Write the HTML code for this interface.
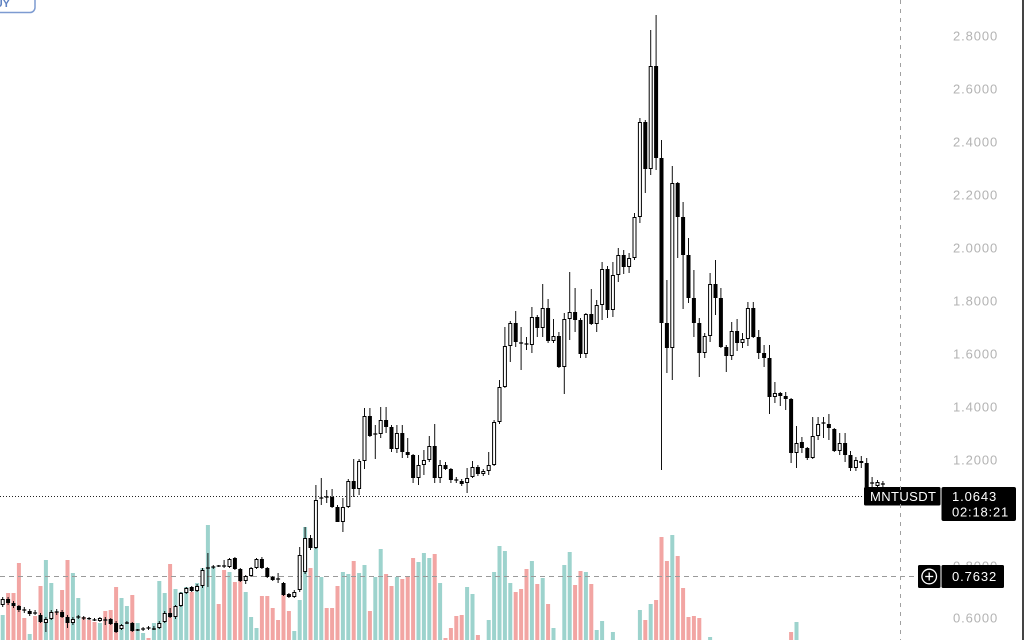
<!DOCTYPE html>
<html>
<head>
<meta charset="utf-8">
<style>
html,body{margin:0;padding:0;background:#fff;}
body{width:1024px;height:640px;overflow:hidden;}
svg{display:block;}
.ax{font-family:"Liberation Sans",sans-serif;font-size:13px;letter-spacing:0.9px;fill:#b3b3b3;}
.lb{font-family:"Liberation Sans",sans-serif;font-size:13px;fill:#fff;}
</style>
</head>
<body>
<svg width="1024" height="640" viewBox="0 0 1024 640" xmlns="http://www.w3.org/2000/svg">
<rect x="0" y="0" width="1024" height="640" fill="#fff"/>

<!-- top-left button -->
<rect x="-30" y="-20" width="65" height="32.5" rx="5" ry="5" fill="#fff" stroke="#7d9bd1" stroke-width="1.5"/>
<text x="10" y="7" text-anchor="end" font-family="Liberation Sans, sans-serif" font-size="11" font-weight="bold" fill="#5f82c2">BUY</text>

<!-- volume bars -->
<path fill="#9dd3cd" d="M0.7 615h4V640h-4zM27.7 634h4V640h-4zM43.9 560h4V640h-4zM49.3 583h4V640h-4zM70.9 573h4V640h-4zM76.3 598h4V640h-4zM97.9 623h4V640h-4zM119.5 598h4V640h-4zM124.9 606h4V640h-4zM135.7 623h4V640h-4zM141.1 633h4V640h-4zM151.9 623h4V640h-4zM157.3 581h4V640h-4zM162.7 593h4V640h-4zM173.5 589h4V640h-4zM178.9 592h4V640h-4zM184.3 587h4V640h-4zM195.1 583h4V640h-4zM200.5 568h4V640h-4zM205.9 525h4V640h-4zM211.3 567h4V640h-4zM227.5 572h4V640h-4zM243.7 592h4V640h-4zM249.1 617h4V640h-4zM254.5 628h4V640h-4zM292.3 631h4V640h-4zM297.7 600h4V640h-4zM303.1 527h4V640h-4zM313.9 520h4V640h-4zM319.3 577h4V640h-4zM340.9 572h4V640h-4zM346.3 574h4V640h-4zM357.1 573h4V640h-4zM362.5 565h4V640h-4zM373.3 577h4V640h-4zM378.7 549h4V640h-4zM394.9 577h4V640h-4zM416.5 562h4V640h-4zM421.9 553h4V640h-4zM427.3 558h4V640h-4zM438.1 583h4V640h-4zM465.1 587h4V640h-4zM470.5 594h4V640h-4zM486.7 620h4V640h-4zM492.1 572h4V640h-4zM497.5 546h4V640h-4zM502.9 551h4V640h-4zM508.3 583h4V640h-4zM529.9 561h4V640h-4zM540.7 578h4V640h-4zM551.5 628h4V640h-4zM562.3 565h4V640h-4zM567.7 552h4V640h-4zM583.9 572h4V640h-4zM594.7 630h4V640h-4zM600.1 621h4V640h-4zM610.9 632h4V640h-4zM637.9 610h4V640h-4zM648.7 604h4V640h-4zM670.3 535h4V640h-4zM708.1 637h4V640h-4zM794.5 622h4V640h-4z"/>
<path fill="#f2a5a3" d="M6.1 593h4V640h-4zM11.5 593h4V640h-4zM16.9 563h4V640h-4zM22.3 618h4V640h-4zM33.1 616h4V640h-4zM38.5 586h4V640h-4zM54.7 612h4V640h-4zM60.1 590h4V640h-4zM65.5 560h4V640h-4zM81.7 617h4V640h-4zM87.1 620h4V640h-4zM92.5 622h4V640h-4zM103.3 611h4V640h-4zM108.7 610h4V640h-4zM114.1 587h4V640h-4zM130.3 595h4V640h-4zM146.5 638h4V640h-4zM168.1 564h4V640h-4zM189.7 592h4V640h-4zM216.7 604h4V640h-4zM222.1 570h4V640h-4zM232.9 582h4V640h-4zM238.3 572h4V640h-4zM259.9 596h4V640h-4zM265.3 596h4V640h-4zM270.7 608h4V640h-4zM276.1 620h4V640h-4zM281.5 595h4V640h-4zM286.9 611h4V640h-4zM308.5 568h4V640h-4zM324.7 608h4V640h-4zM330.1 608h4V640h-4zM335.5 586h4V640h-4zM351.7 561h4V640h-4zM367.9 611h4V640h-4zM384.1 574h4V640h-4zM389.5 586h4V640h-4zM400.3 579h4V640h-4zM405.7 577h4V640h-4zM411.1 558h4V640h-4zM432.7 554h4V640h-4zM443.5 638h4V640h-4zM448.9 628h4V640h-4zM454.3 616h4V640h-4zM459.7 615h4V640h-4zM475.9 635h4V640h-4zM513.7 592h4V640h-4zM519.1 589h4V640h-4zM524.5 569h4V640h-4zM535.3 584h4V640h-4zM546.1 604h4V640h-4zM573.1 585h4V640h-4zM578.5 571h4V640h-4zM589.3 584h4V640h-4zM643.3 620h4V640h-4zM654.1 600h4V640h-4zM659.5 537h4V640h-4zM664.9 561h4V640h-4zM675.7 556h4V640h-4zM681.1 588h4V640h-4zM686.5 617h4V640h-4zM691.9 616h4V640h-4zM697.3 618h4V640h-4zM789.1 632h4V640h-4z"/>

<!-- dashed horizontal line -->
<line x1="0" y1="576.5" x2="917" y2="576.5" stroke="#9a9a9a" stroke-width="1" stroke-dasharray="5 4"/>
<!-- dotted current price line -->
<line x1="0" y1="496.5" x2="864" y2="496.5" stroke="#222" stroke-width="1" stroke-dasharray="1 2"/>

<!-- wicks -->
<path fill="none" stroke="#111" stroke-width="1" d="M2.7 597V607M8.1 597V605M13.5 601V608M18.9 605V612M24.3 607V613M29.7 609V616M35.1 610V615M40.5 613V623M45.9 617V632M51.3 610V620M56.7 609V615M62.1 610V618M67.5 615V628M72.9 617V625M78.3 615V619M83.7 616V620M89.1 617V620M94.5 618V621M99.9 617V622M105.3 617V625M110.7 618V625M116.1 621V633M121.5 624V630M126.9 621V624M132.3 622V632M137.7 629V631M143.1 627V631M148.5 626V630M153.9 626V630M159.3 621V629M164.7 611V623M170.1 608V618M175.5 605V619M180.9 592V607M186.3 587V594M191.7 586V592M197.1 584V592M202.5 568V588M207.9 553V587M213.3 565V569M218.7 565V567M224.1 560V568M229.5 558V568M234.9 557V570M240.3 568V582M245.7 575V584M251.1 567V577M256.5 558V569M261.9 557V569M267.3 567V578M272.7 576V581M278.1 573V583M283.5 582V596M288.9 593V598M294.3 590V598M299.7 547V592M305.1 527V574M310.5 535V550M315.9 485V549M321.3 478V505M326.7 490V503M332.1 489V508M337.5 505V522M342.9 498V532M348.3 479V508M353.7 459V497M359.1 459V495M364.5 408V469M369.9 408V437M375.3 425V459M380.7 407V438M386.1 407V433M391.5 425V452M396.9 425V453M402.3 425V458M407.7 438V458M413.1 454V483M418.5 455V485M423.9 450V475M429.3 436V462M434.7 424V483M440.1 460V483M445.5 462V470M450.9 468V483M456.3 477V483M461.7 479V486M467.1 468V493M472.5 461V478M477.9 465V476M483.3 469V476M488.7 452V475M494.1 420V466M499.5 380V424M504.9 327V388M510.3 321V362M515.7 311V347M521.1 327V370M526.5 337V350M531.9 307V353M537.3 315V337M542.7 284V337M548.1 299V343M553.5 319V343M558.9 332V368M564.3 313V394M569.7 272V340M575.1 288V332M580.5 318V358M585.9 313V358M591.3 289V325M596.7 300V332M602.1 262V320M607.5 266V318M612.9 262V317M618.3 248V282M623.7 250V274M629.1 253V273M634.5 213V260M639.9 118V223M645.3 120V193M650.7 30V175M656.1 15V170M661.5 140V470M666.9 280V373M672.3 166V380M677.7 182V258M683.1 202V309M688.5 238V303M693.9 270V337M699.3 318V377M704.7 333V358M710.1 273V342M715.5 260V315M720.9 288V348M726.3 345V372M731.7 322V360M737.1 319V351M742.5 333V348M747.9 302V346M753.3 302V338M758.7 330V359M764.1 345V367M769.5 345V414M774.9 382V403M780.3 392V406M785.7 392V410M791.1 398V463M796.5 426V468M801.9 437V453M807.3 447V460M812.7 417V459M818.1 417V440M823.5 417V438M828.9 414V440M834.3 428V452M839.7 433V455M845.1 433V462M850.5 451V471M855.9 457V471M861.3 456V468M866.7 458V488M872.1 477V490M877.5 480V487M882.9 481V487"/>

<!-- bodies (outer, black) -->
<path fill="#000" d="M0.7 599h4V605h-4zM6.1 599h4V603h-4zM11.5 603h4V606h-4zM16.9 606h4V610h-4zM22.3 609.4h4V610.6h-4zM27.7 611h4V614h-4zM33.1 612.4h4V613.6h-4zM38.5 615h4V622h-4zM43.9 619h4V623h-4zM49.3 612h4V619h-4zM54.7 611.4h4V612.6h-4zM60.1 612h4V617h-4zM65.5 617h4V623h-4zM70.9 619h4V623h-4zM76.3 616.4h4V617.6h-4zM81.7 617.4h4V618.6h-4zM87.1 618h4V619.2h-4zM92.5 619.4h4V620.6h-4zM97.9 618h4V621h-4zM103.3 619.4h4V620.6h-4zM108.7 619h4V624h-4zM114.1 623h4V632h-4zM119.5 625h4V629h-4zM124.9 622.4h4V623.6h-4zM130.3 623h4V631h-4zM135.7 629.4h4V630.6h-4zM141.1 628.4h4V629.6h-4zM146.5 627.4h4V628.6h-4zM151.9 628.4h4V629.6h-4zM157.3 623h4V628h-4zM162.7 613h4V622h-4zM168.1 613h4V617h-4zM173.5 606h4V617h-4zM178.9 593h4V606h-4zM184.3 588h4V593h-4zM189.7 587h4V591h-4zM195.1 586h4V591h-4zM200.5 570h4V586h-4zM205.9 567.4h4V568.6h-4zM211.3 566.4h4V567.6h-4zM216.7 565.4h4V566.6h-4zM222.1 565.4h4V566.6h-4zM227.5 559h4V567h-4zM232.9 558h4V569h-4zM238.3 569h4V581h-4zM243.7 576h4V581h-4zM249.1 568h4V576h-4zM254.5 559h4V568h-4zM259.9 559h4V568h-4zM265.3 568h4V577h-4zM270.7 577h4V580h-4zM276.1 578.4h4V579.6h-4zM281.5 583h4V595h-4zM286.9 594h4V597h-4zM292.3 592h4V597h-4zM297.7 555h4V590h-4zM303.1 538h4V572h-4zM308.5 538h4V548h-4zM313.9 500h4V548h-4zM319.3 497.4h4V498.6h-4zM324.7 496.4h4V497.6h-4zM330.1 497h4V507h-4zM335.5 507h4V522h-4zM340.9 507h4V522h-4zM346.3 481h4V507h-4zM351.7 481h4V489h-4zM357.1 461h4V489h-4zM362.5 416h4V461h-4zM367.9 416h4V436h-4zM373.3 433.4h4V434.6h-4zM378.7 420h4V434h-4zM384.1 420h4V427h-4zM389.5 427h4V449h-4zM394.9 433h4V449h-4zM400.3 433h4V452h-4zM405.7 452h4V455h-4zM411.1 455h4V478h-4zM416.5 465h4V478h-4zM421.9 460h4V465h-4zM427.3 446h4V460h-4zM432.7 446h4V478h-4zM438.1 465h4V478h-4zM443.5 465h4V469h-4zM448.9 469h4V480h-4zM454.3 479.4h4V480.6h-4zM459.7 481h4V484h-4zM465.1 478h4V483h-4zM470.5 467h4V477h-4zM475.9 467h4V474h-4zM481.3 471h4V474h-4zM486.7 465h4V471h-4zM492.1 422h4V465h-4zM497.5 387h4V422h-4zM502.9 346h4V387h-4zM508.3 323h4V346h-4zM513.7 323h4V342h-4zM519.1 342.4h4V343.6h-4zM524.5 343.4h4V344.6h-4zM529.9 317h4V345h-4zM535.3 317h4V328h-4zM540.7 308h4V328h-4zM546.1 308h4V341h-4zM551.5 336h4V341h-4zM556.9 336h4V367h-4zM562.3 319h4V367h-4zM567.7 312h4V319h-4zM573.1 312h4V320h-4zM578.5 320h4V354h-4zM583.9 314h4V354h-4zM589.3 314h4V324h-4zM594.7 305h4V324h-4zM600.1 269h4V305h-4zM605.5 269h4V310h-4zM610.9 275h4V310h-4zM616.3 255h4V275h-4zM621.7 255h4V267h-4zM627.1 258h4V267h-4zM632.5 217h4V258h-4zM637.9 122h4V217h-4zM643.3 122h4V169h-4zM648.7 66h4V169h-4zM654.1 66h4V158h-4zM659.5 158h4V323h-4zM664.9 323h4V348h-4zM670.3 183h4V348h-4zM675.7 183h4V217h-4zM681.1 217h4V255h-4zM686.5 255h4V298h-4zM691.9 298h4V323h-4zM697.3 323h4V353h-4zM702.7 336h4V353h-4zM708.1 284h4V336h-4zM713.5 284h4V298h-4zM718.9 298h4V347h-4zM724.3 347h4V356h-4zM729.7 331h4V356h-4zM735.1 331h4V343h-4zM740.5 339h4V343h-4zM745.9 308h4V339h-4zM751.3 308h4V337h-4zM756.7 337h4V353h-4zM762.1 353h4V358h-4zM767.5 358h4V397h-4zM772.9 393h4V397h-4zM778.3 393h4V396h-4zM783.7 396h4V399h-4zM789.1 399h4V453h-4zM794.5 443h4V453h-4zM799.9 442h4V448h-4zM805.3 448h4V458h-4zM810.7 436h4V458h-4zM816.1 424h4V436h-4zM821.5 422.4h4V423.6h-4zM826.9 424h4V428h-4zM832.3 429h4V451h-4zM837.7 443h4V451h-4zM843.1 443h4V455h-4zM848.5 455h4V468h-4zM853.9 460h4V468h-4zM859.3 461h4V463h-4zM864.7 463h4V487h-4zM870.1 482.4h4V483.6h-4zM875.5 482h4V486h-4zM880.9 483.4h4V484.6h-4z"/>

<!-- hollow (up) candle interiors -->
<path fill="#fff" d="M1.7 600h2V604h-2zM44.9 620h2V622h-2zM50.3 613h2V618h-2zM71.9 620h2V622h-2zM98.9 619h2V620h-2zM120.5 626h2V628h-2zM158.3 624h2V627h-2zM163.7 614h2V621h-2zM174.5 607h2V616h-2zM179.9 594h2V605h-2zM185.3 589h2V592h-2zM196.1 587h2V590h-2zM201.5 571h2V585h-2zM228.5 560h2V566h-2zM244.7 577h2V580h-2zM250.1 569h2V575h-2zM255.5 560h2V567h-2zM293.3 593h2V596h-2zM298.7 556h2V589h-2zM304.1 539h2V571h-2zM314.9 501h2V547h-2zM341.9 508h2V521h-2zM347.3 482h2V506h-2zM358.1 462h2V488h-2zM363.5 417h2V460h-2zM379.7 421h2V433h-2zM395.9 434h2V448h-2zM417.5 466h2V477h-2zM422.9 461h2V464h-2zM428.3 447h2V459h-2zM439.1 466h2V477h-2zM466.1 479h2V482h-2zM471.5 468h2V476h-2zM482.3 472h2V473h-2zM487.7 466h2V470h-2zM493.1 423h2V464h-2zM498.5 388h2V421h-2zM503.9 347h2V386h-2zM509.3 324h2V345h-2zM530.9 318h2V344h-2zM541.7 309h2V327h-2zM552.5 337h2V340h-2zM563.3 320h2V366h-2zM568.7 313h2V318h-2zM584.9 315h2V353h-2zM595.7 306h2V323h-2zM601.1 270h2V304h-2zM611.9 276h2V309h-2zM617.3 256h2V274h-2zM628.1 259h2V266h-2zM633.5 218h2V257h-2zM638.9 123h2V216h-2zM649.7 67h2V168h-2zM671.3 184h2V347h-2zM703.7 337h2V352h-2zM709.1 285h2V335h-2zM730.7 332h2V355h-2zM741.5 340h2V342h-2zM746.9 309h2V338h-2zM773.9 394h2V396h-2zM795.5 444h2V452h-2zM811.7 437h2V457h-2zM817.1 425h2V435h-2zM838.7 444h2V450h-2zM854.9 461h2V467h-2zM876.5 483h2V485h-2z"/>

<!-- price axis labels -->
<text class="ax" x="953" y="40.6">2.8000</text>
<text class="ax" x="953" y="93.6">2.6000</text>
<text class="ax" x="953" y="146.6">2.4000</text>
<text class="ax" x="953" y="199.6">2.2000</text>
<text class="ax" x="953" y="252.6">2.0000</text>
<text class="ax" x="953" y="305.6">1.8000</text>
<text class="ax" x="953" y="358.6">1.6000</text>
<text class="ax" x="953" y="411.6">1.4000</text>
<text class="ax" x="953" y="464.6">1.2000</text>
<text class="ax" x="953" y="570.6">0.8000</text>
<text class="ax" x="953" y="622.6">0.6000</text>

<!-- symbol label -->
<rect x="864" y="487" width="76.5" height="18.5" rx="1.5" fill="#000"/>
<text class="lb" x="870" y="501" letter-spacing="0.4">MNTUSDT</text>

<!-- vertical dashed crosshair -->
<line x1="900.5" y1="0" x2="900.5" y2="640" stroke="#a0a0a0" stroke-width="1" stroke-dasharray="4 5"/>

<!-- last price + countdown -->
<rect x="941.5" y="487" width="74.5" height="34" rx="2" fill="#000"/>
<text class="lb" x="952" y="501" letter-spacing="0.9">1.0643</text>
<text class="lb" x="952" y="516.5" letter-spacing="0.8" fill="#e8e8e8">02:18:21</text>

<!-- crosshair price -->
<rect x="918" y="565" width="22.5" height="23" rx="1.5" fill="#000"/>
<circle cx="929.2" cy="576.5" r="7.3" fill="none" stroke="#fff" stroke-width="1.3"/>
<line x1="925.2" y1="576.5" x2="933.2" y2="576.5" stroke="#fff" stroke-width="1.3"/>
<line x1="929.2" y1="572.5" x2="929.2" y2="580.5" stroke="#fff" stroke-width="1.3"/>
<rect x="941.5" y="565" width="62.5" height="23" rx="1.5" fill="#000"/>
<text class="lb" x="952" y="581" letter-spacing="0.9">0.7632</text>

<!-- right border -->
<rect x="1022" y="0" width="2" height="640" fill="#444"/>
</svg>
</body>
</html>
